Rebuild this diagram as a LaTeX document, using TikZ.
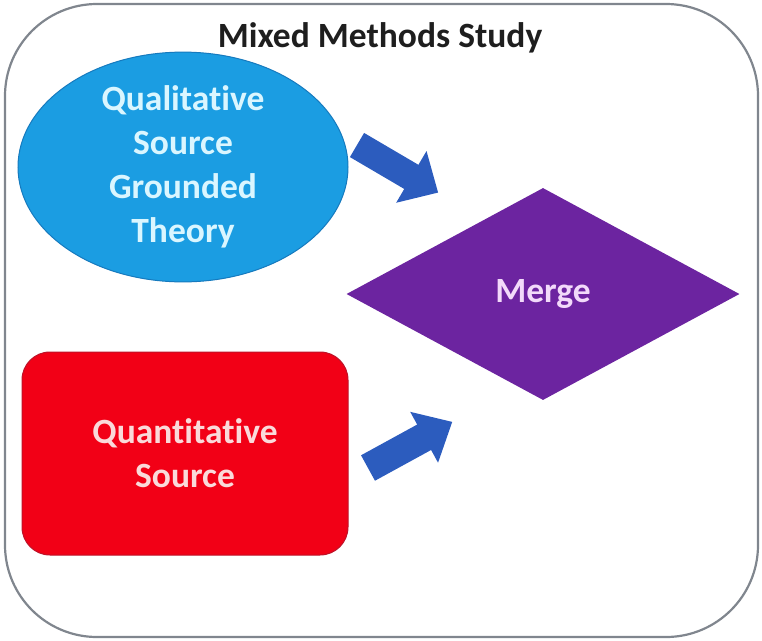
\documentclass[tikz,border=0pt]{standalone}
\usepackage{fontspec}
\setmainfont{Carlito}[Ligatures=NoCommon]
\usetikzlibrary{shapes.geometric}
\definecolor{framegray}{RGB}{128,134,142}
\definecolor{titlegray}{RGB}{30,30,30}
\definecolor{qualblue}{RGB}{27,157,226}
\definecolor{qualedge}{RGB}{22,122,190}
\definecolor{qualtext}{RGB}{218,246,255}
\definecolor{quantred}{RGB}{242,0,22}
\definecolor{quantedge}{RGB}{190,18,40}
\definecolor{quanttext}{RGB}{250,218,218}
\definecolor{mergepurple}{RGB}{108,36,160}
\definecolor{mergetext}{RGB}{242,218,250}
\definecolor{arrowblue}{RGB}{44,92,190}
\begin{document}
\begin{tikzpicture}[x=1pt,y=-1pt,
  lbl/.style={font=\fontsize{35.5}{44}\selectfont\bfseries, align=center},
  blockarrow/.style={fill=arrowblue}]
\useasboundingbox (0,0) rectangle (762,640);
% outer frame and heading
\draw[framegray, line width=2.2pt, rounded corners=92pt] (5,4) rectangle (758,637);
\node[lbl, text=titlegray, anchor=base, inner sep=0pt] (title) at (380,47) {Mixed Methods Study};
% the two sources
\node[ellipse, lbl, fill=qualblue, draw=qualedge, line width=1pt,
      minimum width=330pt, minimum height=202pt, inner sep=0pt, text=qualtext]
      (qual) at (183,167) {Qualitative\\Source\\Grounded\\Theory};
\node[rectangle, lbl, rounded corners=28pt, fill=quantred, draw=quantedge, line width=1pt,
      minimum width=326pt, minimum height=203pt, inner sep=0pt, text=quanttext]
      (quant) at (185,453.5) {Quantitative\\Source};
% merge step
\node[diamond, lbl, fill=mergepurple, minimum width=393pt, minimum height=212pt,
      inner sep=0pt, shape aspect=1.85, text=mergetext]
      (merge) at (543,294) {Merge};
% block arrows towards the merge step
\begin{scope}[shift={(357,145)}, rotate=-30.4]
  \fill[blockarrow] (0,-14) -- (63,-14) -- (63,-30) -- (94,0) -- (63,30) -- (63,14) -- (0,14) -- cycle;
\end{scope}
\begin{scope}[shift={(368,468)}, rotate=28.7]
  \fill[blockarrow] (0,-14.5) -- (64,-14.5) -- (64,-29) -- (96,0) -- (64,29) -- (64,14.5) -- (0,14.5) -- cycle;
\end{scope}
\end{tikzpicture}
\end{document}
